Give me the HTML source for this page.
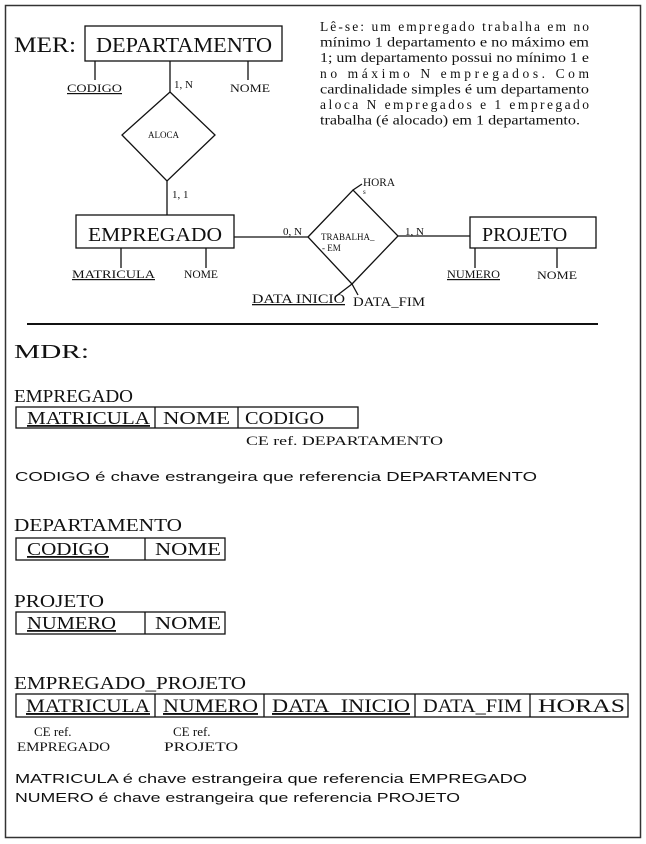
<!DOCTYPE html>
<html><head><meta charset="utf-8"><style>
html,body{margin:0;padding:0;background:#fff;}
svg{display:block;}
text{font-family:"Liberation Serif",serif;fill:#111;}
.s{font-family:"Liberation Sans",sans-serif;}
</style></head><body>
<svg width="646" height="844" viewBox="0 0 646 844" xmlns="http://www.w3.org/2000/svg">
<rect x="5.5" y="5.5" width="635" height="832" fill="none" stroke="#333" stroke-width="1.5"/>
<g stroke="#111" stroke-width="1.3" fill="none">
<rect x="85" y="26" width="197" height="35"/>
<line x1="95" y1="61" x2="95" y2="80"/>
<line x1="248" y1="61" x2="248" y2="80"/>
<line x1="170" y1="61" x2="170" y2="92"/>
<polygon points="170,92 215,135 167,181 122,135"/>
<line x1="167" y1="181" x2="167" y2="215"/>
<rect x="76" y="215" width="158" height="33"/>
<line x1="121" y1="248" x2="121" y2="268"/>
<line x1="206" y1="248" x2="206" y2="268"/>
<line x1="234" y1="237" x2="308" y2="237"/>
<polygon points="308,237 353,190 398,236 352,284"/>
<line x1="353" y1="190" x2="362" y2="184"/>
<line x1="398" y1="236" x2="470" y2="236"/>
<rect x="470" y="217" width="126" height="31"/>
<line x1="475" y1="248" x2="475" y2="268"/>
<line x1="557" y1="248" x2="557" y2="268"/>
<line x1="352" y1="284" x2="335" y2="297"/>
<line x1="352" y1="284" x2="358" y2="295"/>
<line x1="27" y1="324" x2="598" y2="324" stroke-width="2"/>
<rect x="16" y="407" width="342" height="21"/>
<line x1="155" y1="407" x2="155" y2="428"/><line x1="238" y1="407" x2="238" y2="428"/>
<rect x="16" y="538" width="209" height="22"/>
<line x1="145" y1="538" x2="145" y2="560"/>
<rect x="16" y="612" width="209" height="22"/>
<line x1="145" y1="612" x2="145" y2="634"/>
<rect x="16" y="694" width="612" height="23"/>
<line x1="155" y1="694" x2="155" y2="717"/><line x1="264" y1="694" x2="264" y2="717"/>
<line x1="415" y1="694" x2="415" y2="717"/><line x1="530" y1="694" x2="530" y2="717"/>
</g>
<text x="14" y="52" font-size="22" textLength="62" lengthAdjust="spacingAndGlyphs">MER:</text>
<text x="96" y="52" font-size="21" textLength="176" lengthAdjust="spacingAndGlyphs">DEPARTAMENTO</text>
<text x="67" y="92" font-size="12" text-decoration="underline" textLength="55" lengthAdjust="spacingAndGlyphs">CODIGO</text>
<text x="174" y="88" font-size="11">1, N</text>
<text x="230" y="92" font-size="12" textLength="40" lengthAdjust="spacingAndGlyphs">NOME</text>
<text x="148" y="138" font-size="9">ALOCA</text>
<text x="172" y="198" font-size="11">1, 1</text>
<text x="88" y="241" font-size="20" textLength="134" lengthAdjust="spacingAndGlyphs">EMPREGADO</text>
<text x="72" y="278" font-size="12" text-decoration="underline" textLength="83" lengthAdjust="spacingAndGlyphs">MATRICULA</text>
<text x="184" y="278" font-size="12" textLength="34" lengthAdjust="spacingAndGlyphs">NOME</text>
<text x="283" y="235" font-size="11">0, N</text>
<text x="321" y="240" font-size="9">TRABALHA_</text>
<text x="322" y="251" font-size="9">- EM</text>
<text x="363" y="186" font-size="12" textLength="32" lengthAdjust="spacingAndGlyphs">HORA</text>
<text x="363" y="194" font-size="7">s</text>
<text x="405" y="235" font-size="11">1, N</text>
<text x="482" y="241" font-size="20">PROJETO</text>
<text x="447" y="278" font-size="12" text-decoration="underline" textLength="53" lengthAdjust="spacingAndGlyphs">NUMERO</text>
<text x="537" y="279" font-size="12" textLength="40" lengthAdjust="spacingAndGlyphs">NOME</text>
<text x="252" y="303" font-size="13" text-decoration="underline" textLength="93" lengthAdjust="spacingAndGlyphs">DATA INICIO</text>
<text x="353" y="306" font-size="13" textLength="72" lengthAdjust="spacingAndGlyphs">DATA_FIM</text>
<g font-size="13.5">
<text x="320" y="31" textLength="269" lengthAdjust="spacing">Lê-se: um empregado trabalha em no</text>
<text x="320" y="46.6" textLength="269" lengthAdjust="spacingAndGlyphs">mínimo 1 departamento e no máximo em</text>
<text x="320" y="62.2" textLength="269" lengthAdjust="spacingAndGlyphs">1; um departamento possui no mínimo 1 e</text>
<text x="320" y="77.8" textLength="269" lengthAdjust="spacing">no máximo N empregados. Com</text>
<text x="320" y="93.4" textLength="269" lengthAdjust="spacingAndGlyphs">cardinalidade simples é um departamento</text>
<text x="320" y="109" textLength="269" lengthAdjust="spacing">aloca N empregados e 1 empregado</text>
<text x="320" y="124.6" textLength="260" lengthAdjust="spacingAndGlyphs">trabalha (é alocado) em 1 departamento.</text>
</g>
<text x="14" y="358" font-size="20" textLength="75" lengthAdjust="spacingAndGlyphs">MDR:</text>
<text x="14" y="402" font-size="18" textLength="119" lengthAdjust="spacingAndGlyphs">EMPREGADO</text>
<text x="27" y="424" font-size="18" text-decoration="underline" textLength="123" lengthAdjust="spacingAndGlyphs">MATRICULA</text>
<text x="163" y="424" font-size="18" textLength="67" lengthAdjust="spacingAndGlyphs">NOME</text>
<text x="245" y="424" font-size="18" textLength="79" lengthAdjust="spacingAndGlyphs">CODIGO</text>
<text x="246" y="445" font-size="13" textLength="197" lengthAdjust="spacingAndGlyphs">CE ref. DEPARTAMENTO</text>
<text x="15" y="481" font-size="13" class="s" textLength="522" lengthAdjust="spacingAndGlyphs">CODIGO é chave estrangeira que referencia DEPARTAMENTO</text>
<text x="14" y="531" font-size="18" textLength="168" lengthAdjust="spacingAndGlyphs">DEPARTAMENTO</text>
<text x="27" y="555" font-size="18" text-decoration="underline" textLength="82" lengthAdjust="spacingAndGlyphs">CODIGO</text>
<text x="155" y="555" font-size="18" textLength="66" lengthAdjust="spacingAndGlyphs">NOME</text>
<text x="14" y="607" font-size="18" textLength="90" lengthAdjust="spacingAndGlyphs">PROJETO</text>
<text x="27" y="629" font-size="18" text-decoration="underline" textLength="89" lengthAdjust="spacingAndGlyphs">NUMERO</text>
<text x="155" y="629" font-size="18" textLength="66" lengthAdjust="spacingAndGlyphs">NOME</text>
<text x="14" y="689" font-size="18" textLength="232" lengthAdjust="spacingAndGlyphs">EMPREGADO_PROJETO</text>
<text x="26" y="712" font-size="19" text-decoration="underline" textLength="124" lengthAdjust="spacingAndGlyphs">MATRICULA</text>
<text x="163" y="712" font-size="19" text-decoration="underline" textLength="95" lengthAdjust="spacingAndGlyphs">NUMERO</text>
<text x="272" y="712" font-size="19" text-decoration="underline" textLength="138" lengthAdjust="spacingAndGlyphs">DATA_INICIO</text>
<text x="423" y="712" font-size="19" textLength="99" lengthAdjust="spacingAndGlyphs">DATA_FIM</text>
<text x="538" y="712" font-size="19" textLength="87" lengthAdjust="spacingAndGlyphs">HORAS</text>
<text x="34" y="736" font-size="13">CE ref.</text>
<text x="17" y="751" font-size="13" textLength="93" lengthAdjust="spacingAndGlyphs">EMPREGADO</text>
<text x="173" y="736" font-size="13">CE ref.</text>
<text x="164" y="751" font-size="13" textLength="74" lengthAdjust="spacingAndGlyphs">PROJETO</text>
<text x="15" y="783" font-size="13" class="s" textLength="512" lengthAdjust="spacingAndGlyphs">MATRICULA é chave estrangeira que referencia EMPREGADO</text>
<text x="15" y="802" font-size="13" class="s" textLength="445" lengthAdjust="spacingAndGlyphs">NUMERO é chave estrangeira que referencia PROJETO</text>
</svg>
</body></html>
